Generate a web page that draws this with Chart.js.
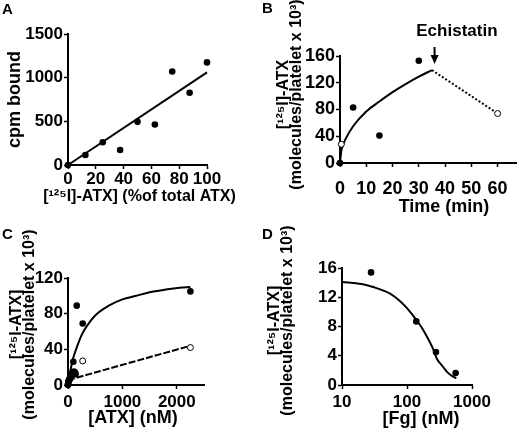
<!DOCTYPE html>
<html>
<head>
<meta charset="utf-8">
<script src="https://cdn.jsdelivr.net/npm/chart.js@4.4.0/dist/chart.umd.min.js"></script>
<style>
  body { margin: 0; background: #fff; }
  #fig { position: relative; width: 520px; height: 431px; overflow: hidden; }
  #fig canvas { position: absolute; }
  .lbl { position: absolute; font: bold 15px/15px "Liberation Sans", Arial, sans-serif; color: #000; }
</style>
</head>
<body>
<div id="fig">
  <canvas id="chartA" width="260" height="210" style="left:0;top:0"></canvas>
  <canvas id="chartB" width="260" height="225" style="left:260px;top:0"></canvas>
  <canvas id="chartC" width="260" height="221" style="left:0;top:210px"></canvas>
  <canvas id="chartD" width="260" height="221" style="left:260px;top:210px"></canvas>
  <div class="lbl" style="left:2px;top:1px">A</div>
  <div class="lbl" style="left:262px;top:0px">B</div>
  <div class="lbl" style="left:2px;top:226px">C</div>
  <div class="lbl" style="left:262px;top:226px">D</div>
</div>
<script>
// A: binding vs % labelled ATX
const percentATX = [0, 12.5, 25, 37.5, 50, 62.5, 75, 87.5, 100];
const cpmBound = [0, 115, 260, 172, 494, 463, 1071, 827, 1175];
const fitAX = [0, 100];
const fitAY = [0, 1060];
const ticksAX = [0, 20, 40, 60, 80, 100];
const ticksAY = [0, 500, 1000, 1500];

// B: time course, echistatin added at ~35 min
const timeMin = [0, 5, 15, 30];
const boundB = [0, 83, 41, 153];
const openTimeMin = [0.5, 60];
const openBoundB = [28, 74];
const curveBX = [0, 0.5, 1, 2, 5, 10, 15, 20, 25, 30, 35];
const curveBY = [0, 18, 25, 35, 55, 77, 92, 106, 118, 129, 139];
const washBX = [35, 60];
const washBY = [139, 74];
const ticksBX = [0, 10, 20, 30, 40, 50, 60];
const ticksBY = [0, 40, 80, 120, 160];
const echistatinAt = 36;
const echistatinTip = 148;

// C: saturation binding
const atxTotal = [0, 6, 20, 37, 50, 68, 98, 110, 129, 140, 160, 270, 2250];
const boundTotal = [0, 4, 6, 8, 10, 12, 26, 15, 14, 12, 89, 69, 105];
const atxNonspec = [0, 10, 30, 60, 100, 270, 2250];
const boundNonspec = [1, 3, 6, 9, 12, 27, 42];
const curveCX = [0, 25, 50, 100, 160, 250, 345, 500, 750, 1000, 1250, 1500, 1800, 2050, 2250];
const curveCY = [0, 10, 18, 31, 42, 56, 66, 78, 89, 96, 100, 104, 107, 109, 110];
const lineCX = [0, 2250];
const lineCY = [5.5, 44];
const ticksCX = [0, 1000, 2000];
const ticksCY = [0, 40, 80, 120];

// D: competition with fibrinogen
const fgNM = [28, 139, 279, 560];
const boundD = [15.4, 8.7, 4.5, 1.65];
const curveDX = [10, 20, 30, 55, 80, 100, 139, 170, 203, 250, 288, 350, 412, 480, 573];
const curveDY = [14.1, 13.8, 13.4, 12.5, 11.4, 10.5, 8.9, 7.8, 6.6, 5.0, 3.6, 2.6, 1.8, 1.3, 0.9];
const ticksDX = [10, 100, 1000];
const ticksDY = [0, 4, 8, 12, 16];

const FONT = '"Liberation Sans", Arial, Helvetica, sans-serif';
const SUP125 = '\u00B9\u00B2\u2075';
const PER_PLATELET = '(molecules/platelet x 10\u00B3)';

// axis titles drawn by hand so that long labels are not squeezed to the axis length
Chart.register({
  id: 'axisTitles',
  afterDraw(chart, args, o) {
    if (!o || !o.xText) return;
    const { ctx, chartArea: a } = chart;
    ctx.save();
    ctx.fillStyle = '#000';
    ctx.textAlign = 'center';
    ctx.textBaseline = 'middle';
    ctx.font = 'bold ' + o.xSize + 'px ' + FONT;
    ctx.fillText(o.xText, (a.left + a.right) / 2 + (o.xShift || 0), o.xPos);
    ctx.translate(0, (a.top + a.bottom) / 2 + (o.yShift || 0));
    ctx.rotate(-Math.PI / 2);
    ctx.font = 'bold ' + o.ySize + 'px ' + FONT;
    o.yLines.forEach((t, i) => ctx.fillText(t, 0, o.yPos[i]));
    ctx.restore();
  }
});

const zip = (xs, ys) => xs.map((x, i) => ({ x: x, y: ys[i] }));

function dots(xs, ys) {
  return { data: zip(xs, ys), showLine: false, pointRadius: 3.3, pointHoverRadius: 3.3,
    pointBackgroundColor: '#000', pointBorderWidth: 0, clip: false };
}
function rings(xs, ys) {
  return { data: zip(xs, ys), showLine: false, pointRadius: 3, pointHoverRadius: 3,
    pointBackgroundColor: '#fff', pointBorderColor: '#000', pointBorderWidth: 1, clip: false };
}
function curve(xs, ys, dash) {
  return { data: zip(xs, ys), showLine: true, pointRadius: 0, borderColor: '#000', borderWidth: 2,
    borderDash: dash || [], cubicInterpolationMode: 'monotone', clip: false };
}

function axis(o) {
  return {
    type: o.type || 'linear',
    min: o.min, max: o.max,
    border: { display: true, color: '#000', width: 2 },
    grid: { display: true, drawOnChartArea: false, drawTicks: true, tickLength: 4, tickWidth: 1.5, tickColor: '#000' },
    ticks: { color: '#000', font: { family: FONT, size: o.tickSize || 17, weight: 'bold' },
      padding: o.tickPad, maxRotation: 0, autoSkip: false, callback: v => String(v) },
    title: { display: false },
    afterBuildTicks: s => { s.ticks = o.ticks.map(v => ({ value: v })); },
    afterFit: s => {
      if (s.isHorizontal()) s.height = o.size; else s.width = o.size;
      s.paddingLeft = 0; s.paddingRight = 0; s.paddingTop = 0; s.paddingBottom = 0;
    }
  };
}

function makeChart(id, datasets, area, x, y, titles, extra) {
  const cv = document.getElementById(id);
  return new Chart(cv, {
    type: 'scatter',
    data: { datasets: datasets },
    options: {
      responsive: false,
      animation: false,
      events: [],
      layout: { padding: { left: 0, top: area.top, right: cv.width - area.right, bottom: 0 } },
      scales: { x: x, y: y },
      plugins: { legend: { display: false }, tooltip: { enabled: false }, axisTitles: titles }
    },
    plugins: extra || []
  });
}

// A
makeChart('chartA',
  [dots(percentATX, cpmBound), curve(fitAX, fitAY)],
  { top: 34, right: 207 },
  axis({ min: 0, max: 100, ticks: ticksAX, size: 45, tickPad: 0 }),
  axis({ min: 0, max: 1500, ticks: ticksAY, size: 68, tickPad: 1 }),
  { xText: '[' + SUP125 + 'I]-ATX] (%of total ATX)', xSize: 16, xPos: 197, xShift: 2,
    yLines: ['cpm bound'], ySize: 18, yPos: [15], yShift: 0 }
);

// B
const echistatin = {
  id: 'echistatin',
  afterDatasetsDraw(chart) {
    const { ctx, scales } = chart;
    const px = scales.x.getPixelForValue(echistatinAt);
    const tip = scales.y.getPixelForValue(echistatinTip);
    ctx.save();
    ctx.strokeStyle = '#000';
    ctx.fillStyle = '#000';
    ctx.lineWidth = 2;
    ctx.beginPath();
    ctx.moveTo(px, tip - 17);
    ctx.lineTo(px, tip - 6);
    ctx.stroke();
    ctx.beginPath();
    ctx.moveTo(px - 4, tip - 9);
    ctx.lineTo(px + 4, tip - 9);
    ctx.lineTo(px, tip);
    ctx.closePath();
    ctx.fill();
    ctx.font = 'bold 17px ' + FONT;
    ctx.textAlign = 'center';
    ctx.textBaseline = 'middle';
    ctx.fillText('Echistatin', scales.x.getPixelForValue(echistatinAt + 8.5), tip - 33);
    ctx.restore();
  }
};
makeChart('chartB',
  [dots(timeMin, boundB), rings(openTimeMin, openBoundB), curve(curveBX, curveBY), curve(washBX, washBY, [2, 2])],
  { top: 56, right: 258 },
  axis({ min: 0, max: 67, ticks: ticksBX, size: 62, tickPad: 11, tickSize: 18 }),
  axis({ min: 0, max: 160, ticks: ticksBY, size: 80, tickPad: 1, tickSize: 18 }),
  { xText: 'Time (min)', xSize: 18, xPos: 207, xShift: 16,
    yLines: ['[' + SUP125 + 'I]-ATX', PER_PLATELET], ySize: 16, yPos: [24, 37], yShift: -15 },
  [echistatin]
);

// C
makeChart('chartC',
  [dots(atxTotal, boundTotal), rings(atxNonspec, boundNonspec), curve(curveCX, curveCY), curve(lineCX, lineCY, [7, 2])],
  { top: 68, right: 204 },
  axis({ min: 0, max: 2500, ticks: ticksCX, size: 46, tickPad: 3 }),
  axis({ min: 0, max: 120, ticks: ticksCY, size: 68, tickPad: 1 }),
  { xText: '[ATX] (nM)', xSize: 18, xPos: 208, xShift: -3,
    yLines: ['[' + SUP125 + 'I-ATX]', PER_PLATELET], ySize: 16, yPos: [17, 30], yShift: -7 }
);

// D
makeChart('chartD',
  [dots(fgNM, boundD), curve(curveDX, curveDY)],
  { top: 58, right: 212 },
  axis({ type: 'logarithmic', min: 10, max: 1000, ticks: ticksDX, size: 46, tickPad: 3 }),
  axis({ min: 0, max: 16, ticks: ticksDY, size: 82, tickPad: 1 }),
  { xText: '[Fg] (nM)', xSize: 18, xPos: 209, xShift: 14,
    yLines: ['[' + SUP125 + 'I-ATX]', PER_PLATELET], ySize: 16, yPos: [15, 28], yShift: -6 }
);
</script>
</body>
</html>
